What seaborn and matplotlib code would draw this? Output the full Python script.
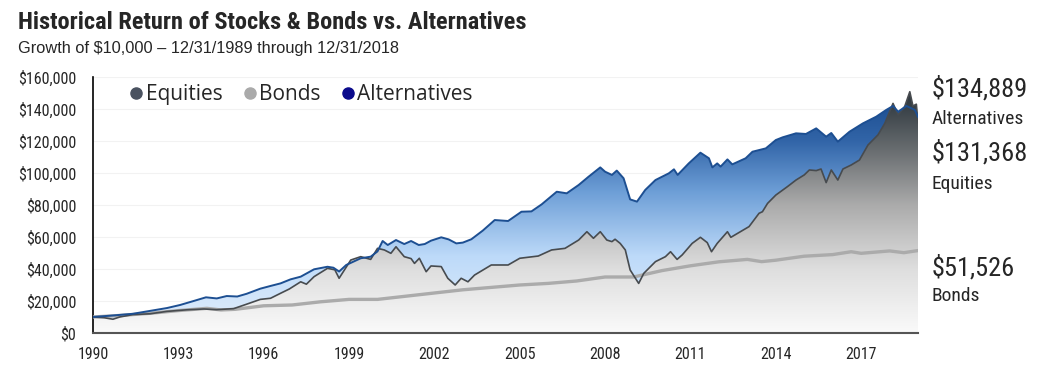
"""Growth of $10,000: stocks, bonds and alternatives, 1990-2018."""
import numpy as np
import pandas as pd
import matplotlib
matplotlib.use("Agg")
import matplotlib.pyplot as plt
import seaborn as sns
from matplotlib import font_manager as fm
from matplotlib.colors import LinearSegmentedColormap
from matplotlib.lines import Line2D
from matplotlib.ticker import FuncFormatter, MultipleLocator

# ---- data (values in $) ----
alt_years = [1990.0, 1990.6, 1991.4, 1992.0, 1992.6, 1993.06, 1993.5, 1993.97, 1994.35, 1994.7,
             1995.07, 1995.4, 1995.88, 1996.24, 1996.59, 1996.94, 1997.3, 1997.77, 1998.24, 1998.45,
             1998.65, 1998.9, 1999.41, 1999.76, 2000.0, 2000.18, 2000.36, 2000.65, 2000.94, 2001.18,
             2001.45, 2001.66, 2001.88, 2002.24, 2002.5, 2002.77, 2003.0, 2003.3, 2003.7, 2004.12,
             2004.59, 2005.06, 2005.41, 2005.77, 2006.3, 2006.65, 2007.07, 2007.42, 2007.83, 2008.0,
             2008.24, 2008.41, 2008.65, 2008.88, 2009.12, 2009.41, 2009.77, 2010.24, 2010.42, 2010.55,
             2010.94, 2011.35, 2011.65, 2011.77, 2011.94, 2012.06, 2012.3, 2012.47, 2012.94, 2013.18,
             2013.65, 2014.0, 2014.24, 2014.71, 2015.06, 2015.42, 2015.77, 2015.95, 2016.18, 2016.59,
             2017.06, 2017.53, 2017.88, 2018.12, 2018.3, 2018.59, 2018.89, 2019.0]
alt_values = [10000, 10800, 12000, 13800, 15600, 17500, 19800, 22300, 21600, 23100,
              22800, 24500, 27700, 29400, 31000, 33500, 35200, 39800, 41400, 40800,
              38400, 42500, 46700, 47700, 51000, 57500, 55000, 58100, 55600, 57500,
              55000, 55600, 57700, 59800, 58500, 56000, 56500, 58600, 64000, 70600,
              70000, 75800, 76000, 80400, 88300, 87300, 92500, 97700, 103500, 100800,
              98800, 101500, 96700, 83500, 82100, 89400, 95600, 99800, 102300, 98800,
              106000, 112700, 109200, 103500, 106000, 104000, 108500, 105400, 109200, 113300,
              115400, 120600, 122300, 124800, 124400, 127900, 122700, 125000, 119600, 125800,
              131000, 135200, 139400, 141900, 138300, 141900, 139400, 134889]

eq_years = [1990.0, 1990.4, 1990.7, 1990.94, 1991.4, 1992.0, 1992.6, 1993.3, 1993.9, 1994.35,
            1994.94, 1995.4, 1995.88, 1996.24, 1996.59, 1996.9, 1997.3, 1997.5, 1997.77, 1998.24,
            1998.5, 1998.65, 1999.06, 1999.41, 1999.76, 2000.0, 2000.24, 2000.47, 2000.65, 2000.94,
            2001.18, 2001.3, 2001.47, 2001.71, 2001.88, 2002.24, 2002.47, 2002.73, 2002.94, 2003.18,
            2003.41, 2004.0, 2004.59, 2005.0, 2005.65, 2006.12, 2006.59, 2007.07, 2007.36, 2007.59,
            2007.83, 2008.06, 2008.24, 2008.35, 2008.53, 2008.71, 2008.88, 2009.18, 2009.36, 2009.77,
            2010.12, 2010.3, 2010.53, 2010.71, 2011.06, 2011.35, 2011.59, 2011.74, 2011.94, 2012.3,
            2012.42, 2013.06, 2013.41, 2013.53, 2013.71, 2014.0, 2014.41, 2014.71, 2015.0, 2015.18,
            2015.42, 2015.59, 2015.77, 2015.95, 2016.18, 2016.36, 2016.65, 2016.94, 2017.24, 2017.59,
            2017.83, 2018.12, 2018.3, 2018.53, 2018.71, 2018.82, 2018.94, 2019.0]
eq_values = [10000, 9500, 8600, 10000, 11500, 12000, 13500, 14500, 15000, 14600,
             15200, 18000, 21000, 21700, 24800, 27500, 32000, 30500, 35200, 40400,
             39500, 34200, 45600, 47700, 46000, 52900, 51900, 49800, 53900, 47700,
             46500, 43500, 46700, 38300, 41900, 41500, 34200, 30000, 34200, 32000,
             36200, 42500, 42500, 46700, 48100, 51900, 52900, 58100, 63300, 59200,
             63300, 58100, 57100, 58600, 56000, 51900, 39400, 31000, 37300, 44600,
             47700, 50800, 46000, 48800, 56000, 59800, 56500, 50800, 56000, 63300,
             59800, 66500, 74800, 75800, 81000, 86200, 91500, 95600, 98800, 101900,
             101500, 102500, 94000, 101900, 95600, 102500, 105000, 108100, 117500, 123800,
             131000, 143500, 136200, 141500, 150800, 141900, 143000, 131368]

bond_years = [1990.0, 1991.0, 1992.0, 1993.0, 1994.0, 1994.5, 1995.0, 1996.0, 1997.0, 1998.0,
              1999.0, 2000.0, 2001.0, 2002.0, 2003.0, 2004.0, 2005.0, 2006.0, 2007.0, 2008.0,
              2009.0, 2010.0, 2011.0, 2012.0, 2013.0, 2013.5, 2014.0, 2015.0, 2016.0, 2016.65,
              2017.0, 2018.0, 2018.5, 2019.0]
bond_values = [10000, 11000, 12300, 14000, 15400, 14400, 14800, 17000, 17500, 19500,
               21000, 21000, 23000, 25000, 27000, 28500, 30000, 31000, 32500, 35000,
               35000, 39000, 42000, 44500, 46000, 44600, 45500, 48000, 49000, 50800,
               49800, 51300, 50200, 51526]

series_labels = ["Equities", "Bonds", "Alternatives"]
end_values = ["$134,889", "$131,368", "$51,526"]
end_labels = ["Alternatives", "Equities", "Bonds"]
year_ticks = list(range(1990, 2019, 3))

# ---- fonts ----
sns.set_style("white")
installed = {f.name for f in fm.fontManager.ttflist}
NARROW = next((n for n in ["Roboto Condensed", "Liberation Sans Narrow", "DejaVu Sans Condensed"]
               if n in installed), "DejaVu Sans")
plt.rcParams["font.family"] = [NARROW, "DejaVu Sans"]

alt_df = pd.DataFrame({"year": alt_years, "value": alt_values})
eq_df = pd.DataFrame({"year": eq_years, "value": eq_values})
bond_df = pd.DataFrame({"year": bond_years, "value": bond_values})

YMAX = 160000
X0, X1 = 1990, 2019

fig = plt.figure(figsize=(10.51, 3.76), dpi=100)
ax = fig.add_axes([0.0885, 0.1144, 0.785, 0.6808])


def gradient_area(ax, x, y, stops, colors, z):
    """Fill under a curve with a vertical gradient fixed to the data y-range."""
    poly = ax.fill_between(x, y, 0, facecolor="none", lw=0)
    cmap = LinearSegmentedColormap.from_list("grad", list(zip(stops, colors)))
    grad = np.linspace(0, 1, 256).reshape(-1, 1)
    im = ax.imshow(grad, cmap=cmap, aspect="auto", origin="lower",
                   extent=[X0, X1, 0, YMAX], zorder=z, interpolation="bilinear")
    im.set_clip_path(poly.get_paths()[0], transform=ax.transData)


gradient_area(ax, alt_df["year"], alt_df["value"],
              [0.0, 0.3, 0.55, 0.75, 0.9, 1.0],
              ["#e4effc", "#bddaf9", "#6e9fd7", "#3265a8", "#1d4f92", "#1a4a8a"], 1)
gradient_area(ax, eq_df["year"], eq_df["value"],
              [0.0, 0.25, 0.5, 0.7, 0.9, 1.0],
              ["#fafafa", "#dedede", "#ababab", "#6d7174", "#343d43", "#2a3238"], 2)

sns.lineplot(data=bond_df, x="year", y="value", ax=ax, color="#ababab", lw=2.4, zorder=3)
sns.lineplot(data=eq_df, x="year", y="value", ax=ax, color="#474b4f", lw=1.2, zorder=4)
sns.lineplot(data=alt_df, x="year", y="value", ax=ax, color="#1d4f92", lw=1.4, zorder=5)

ax.set_xlim(X0, X1)
ax.set_ylim(0, YMAX)
ax.set_xlabel("")
ax.set_ylabel("")
ax.set_xticks(year_ticks)
ax.xaxis.set_minor_locator(MultipleLocator(1))
ax.yaxis.set_major_locator(MultipleLocator(20000))
ax.yaxis.set_major_formatter(FuncFormatter(lambda v, _: f"${v:,.0f}"))
ax.grid(axis="y", color="#f2f2f2", lw=0.8, zorder=0)
ax.set_axisbelow(True)

for side in ("top", "right"):
    ax.spines[side].set_visible(False)
ax.spines["left"].set_color("black")
ax.spines["left"].set_linewidth(1.2)
ax.spines["bottom"].set_color("#555555")
ax.spines["bottom"].set_linewidth(1.5)
ax.tick_params(axis="y", which="major", direction="out", length=5, color="#666666",
               labelsize=11.5, pad=7)
ax.tick_params(axis="x", which="major", direction="out", length=5, color="#666666",
               labelsize=11.5, pad=5)
ax.tick_params(axis="x", which="minor", direction="out", length=3, color="#888888")

# legend
handles = [Line2D([], [], marker="o", ls="none", ms=8, color=c)
           for c in ["#4a5260", "#aaaaaa", "#0b0b8c"]]
leg = ax.legend(handles, series_labels, loc="center left", bbox_to_anchor=(0.104, 0.748),
                bbox_transform=fig.transFigure, ncol=3, frameon=False,
                handletextpad=0.05, columnspacing=0.9, handlelength=0.8,
                prop={"family": ["Open Sans", "DejaVu Sans"], "size": 15})

# title block
fig.text(0.017, 0.94, "Historical Return of Stocks & Bonds vs. Alternatives",
         fontsize=17.6, fontweight="bold", va="center", ha="left")
fig.text(0.017, 0.87, "Growth of $10,000 \u2013 12/31/1989 through 12/31/2018",
         fontsize=11.8, va="center", ha="left", family=["Liberation Sans", "DejaVu Sans"])

# end-value annotations
for val, lab, yv, yl in zip(end_values, end_labels, [0.765, 0.595, 0.288], [0.683, 0.51, 0.212]):
    fig.text(0.886, yv, val, fontsize=19, va="center", ha="left")
    fig.text(0.886, yl, lab, fontsize=14, va="center", ha="left")

fig.savefig("out.png", dpi=100)
